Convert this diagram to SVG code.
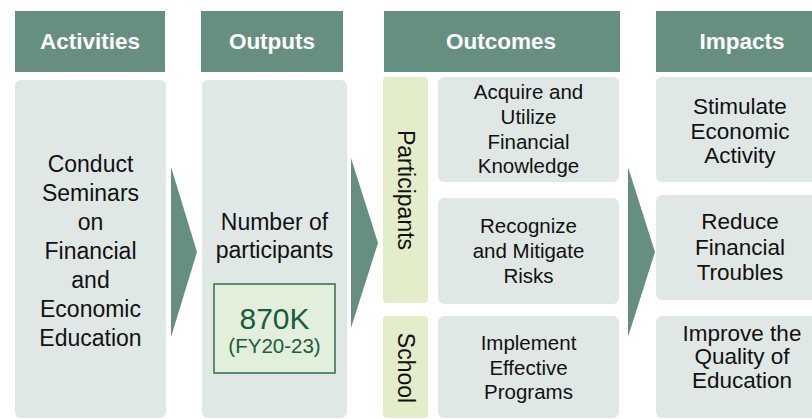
<svg xmlns="http://www.w3.org/2000/svg" width="812" height="419" viewBox="0 0 812 419">
<style>
.hdr{fill:#678f7f}
.hdrt{font-family:"Liberation Sans",Arial,sans-serif;font-weight:bold;font-size:22.5px;fill:#ffffff;text-anchor:middle}
.box{fill:#e0e8e5}
.strip{fill:#e3edca}
.big{font-family:"Liberation Sans",Arial,sans-serif;font-size:23px;fill:#111111;text-anchor:middle}
.mid{font-family:"Liberation Sans",Arial,sans-serif;font-size:20.5px;fill:#111111;text-anchor:middle}
.imp{font-family:"Liberation Sans",Arial,sans-serif;font-size:22.5px;fill:#111111;text-anchor:middle}
.arrow{fill:#678f7f}
</style>
<rect width="812" height="419" fill="#ffffff"/>
<g id="activities">
<rect class="hdr" x="15" y="11" width="150" height="61"/>
<text class="hdrt" x="90" y="49">Activities</text>
<rect class="box" x="15" y="80" width="151" height="338" rx="6"/>
<text class="big" x="90.5"><tspan x="90.5" y="172">Conduct</tspan><tspan x="90.5" y="201">Seminars</tspan><tspan x="90.5" y="230">on</tspan><tspan x="90.5" y="259">Financial</tspan><tspan x="90.5" y="288">and</tspan><tspan x="90.5" y="317">Economic</tspan><tspan x="90.5" y="346">Education</tspan></text>
</g>
<g id="outputs">
<rect class="hdr" x="201" y="11" width="142" height="61"/>
<text class="hdrt" x="272" y="49">Outputs</text>
<rect class="box" x="202" y="80" width="145" height="338" rx="6"/>
<text class="big"><tspan x="274.5" y="230">Number of</tspan><tspan x="274.5" y="258">participants</tspan></text>
<rect x="214" y="284" width="121" height="89" fill="#e2efda" stroke="#2f6e4e" stroke-width="1.5"/>
<text x="274.5" y="329" font-family="'Liberation Sans',Arial,sans-serif" font-size="30" fill="#1d5b3e" text-anchor="middle">870K</text>
<text x="274.5" y="353" font-family="'Liberation Sans',Arial,sans-serif" font-size="20.5" fill="#1d5b3e" text-anchor="middle">(FY20-23)</text>
</g>
<g id="outcomes">
<rect class="hdr" x="384" y="11" width="236" height="61"/>
<text class="hdrt" x="501" y="49">Outcomes</text>
</g>
<g id="participants">
<rect class="strip" x="383" y="77" width="45" height="226" rx="4"/>
<text class="big" transform="translate(398 190) rotate(90)" x="0" y="0">Participants</text>
</g>
<g id="school">
<rect class="strip" x="383" y="316" width="45" height="102" rx="4"/>
<text class="big" transform="translate(398 368) rotate(90)" x="0" y="0">School</text>
</g>
<g id="outcome1">
<rect class="box" x="438" y="77" width="181" height="105" rx="6"/>
<text class="mid"><tspan x="528.5" y="99">Acquire and</tspan><tspan x="528.5" y="124">Utilize</tspan><tspan x="528.5" y="149">Financial</tspan><tspan x="528.5" y="173">Knowledge</tspan></text>
</g>
<g id="outcome2">
<rect class="box" x="438" y="198" width="181" height="106" rx="6"/>
<text class="mid"><tspan x="528.5" y="233">Recognize</tspan><tspan x="528.5" y="258">and Mitigate</tspan><tspan x="528.5" y="283">Risks</tspan></text>
</g>
<g id="outcome3">
<rect class="box" x="438" y="316" width="181" height="102" rx="6"/>
<text class="mid"><tspan x="528.5" y="350">Implement</tspan><tspan x="528.5" y="375">Effective</tspan><tspan x="528.5" y="399">Programs</tspan></text>
</g>
<g id="impacts">
<rect class="hdr" x="656" y="11" width="170" height="61"/>
<text class="hdrt" x="742" y="49">Impacts</text>
</g>
<g id="impact1">
<rect class="box" x="656" y="77" width="168" height="105" rx="6"/>
<text class="imp"><tspan x="740" y="114">Stimulate</tspan><tspan x="740" y="139">Economic</tspan><tspan x="740" y="163">Activity</tspan></text>
</g>
<g id="impact2">
<rect class="box" x="656" y="195" width="168" height="105" rx="6"/>
<text class="imp"><tspan x="740" y="229">Reduce</tspan><tspan x="740" y="255">Financial</tspan><tspan x="740" y="280">Troubles</tspan></text>
</g>
<g id="impact3">
<rect class="box" x="656" y="316" width="168" height="102" rx="6"/>
<text class="imp"><tspan x="742" y="341">Improve the</tspan><tspan x="742" y="364">Quality of</tspan><tspan x="742" y="388">Education</tspan></text>
</g>
<g id="connectors">
<polygon class="arrow" points="171,167 197,252 171,337"/>
<polygon class="arrow" points="351,158 378,243 351,328"/>
<polygon class="arrow" points="628,167 655,252 628,337"/>
</g>
</svg>
